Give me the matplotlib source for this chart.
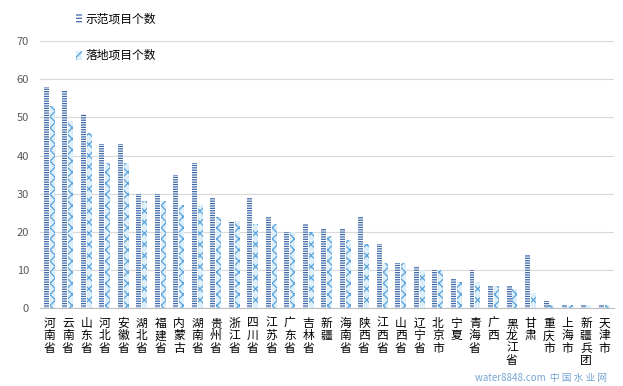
import matplotlib
matplotlib.use("Agg")
import matplotlib.pyplot as plt
from matplotlib.patches import Patch
import numpy as np

plt.rcParams['font.family'] = ['Noto Sans CJK SC', 'DejaVu Sans']
plt.rcParams['hatch.linewidth'] = 0.9

provinces = ['河南省', '云南省', '山东省', '河北省', '安徽省', '湖北省', '福建省', '内蒙古',
             '湖南省', '贵州省', '浙江省', '四川省', '江苏省', '广东省', '吉林省', '新疆',
             '海南省', '陕西省', '江西省', '山西省', '辽宁省', '北京市', '宁夏', '青海省',
             '广西', '黑龙江省', '甘肃', '重庆市', '上海市', '新疆兵团', '天津市']
demo_counts = [58, 57, 51, 43, 43, 30, 30, 35, 38, 29, 23, 29, 24, 20, 22, 21,
               21, 24, 17, 12, 11, 10, 8, 10, 6, 6, 14, 2, 1, 1, 1]
landed_counts = [53, 49, 46, 38, 38, 28, 28, 27, 27, 24, 23, 22, 22, 20, 20, 19,
                 18, 17, 12, 12, 10, 10, 7, 7, 6, 5, 4, 1, 1, 1, 1]
series_names = ['示范项目个数', '落地项目个数']

dark_blue = '#3c68a8'
light_blue = '#5aa3dc'
light_fill = '#dceffb'

fig = plt.figure(figsize=(6.23, 3.86), dpi=100)
ax = fig.add_axes([0.0642, 0.2008, 0.9208, 0.693])

x = np.arange(len(provinces))
w = 0.27
ax.bar(x - w / 2 - 0.02, demo_counts, width=w, color='white', edgecolor=dark_blue,
       hatch='-------', linewidth=0, zorder=3)
ax.bar(x + w / 2 + 0.02, landed_counts, width=w, color=light_fill, edgecolor=light_blue,
       hatch='xxx', linewidth=0, zorder=3)

ax.set_xlim(-0.5, len(provinces) - 0.5)
ax.set_ylim(0, 70)
ax.set_yticks(range(0, 71, 10))
ax.yaxis.grid(True, color='#d9d9d9', linewidth=0.8)
ax.set_axisbelow(True)
for s in ['top', 'right', 'left']:
    ax.spines[s].set_visible(False)
ax.spines['bottom'].set_color('#bfbfbf')
ax.tick_params(axis='y', length=0, labelsize=8, labelcolor='#595959', pad=8)
ax.tick_params(axis='x', length=0, pad=6)
ax.set_xticks(x)
ax.set_xticklabels(['\n'.join(p) for p in provinces], fontsize=8.5,
                   linespacing=0.95, va='top')

handles = [Patch(facecolor='white', edgecolor=dark_blue, hatch='-----', linewidth=0),
           Patch(facecolor=light_fill, edgecolor=light_blue, hatch='xx', linewidth=0)]
fig.legend(handles, series_names, loc='upper left', bbox_to_anchor=(0.105, 0.995),
           frameon=False, fontsize=8.5, handlelength=0.5, handleheight=0.8,
           handletextpad=0.3, labelspacing=2.0)

# watermark, kept to the bottom edge
fig.text(0.975, 0.008, 'water8848.com  中 国 水 业 网', color='#3a7fc1', fontsize=7,
         ha='right', va='bottom', alpha=0.7)

fig.savefig('out.png', dpi=100)
